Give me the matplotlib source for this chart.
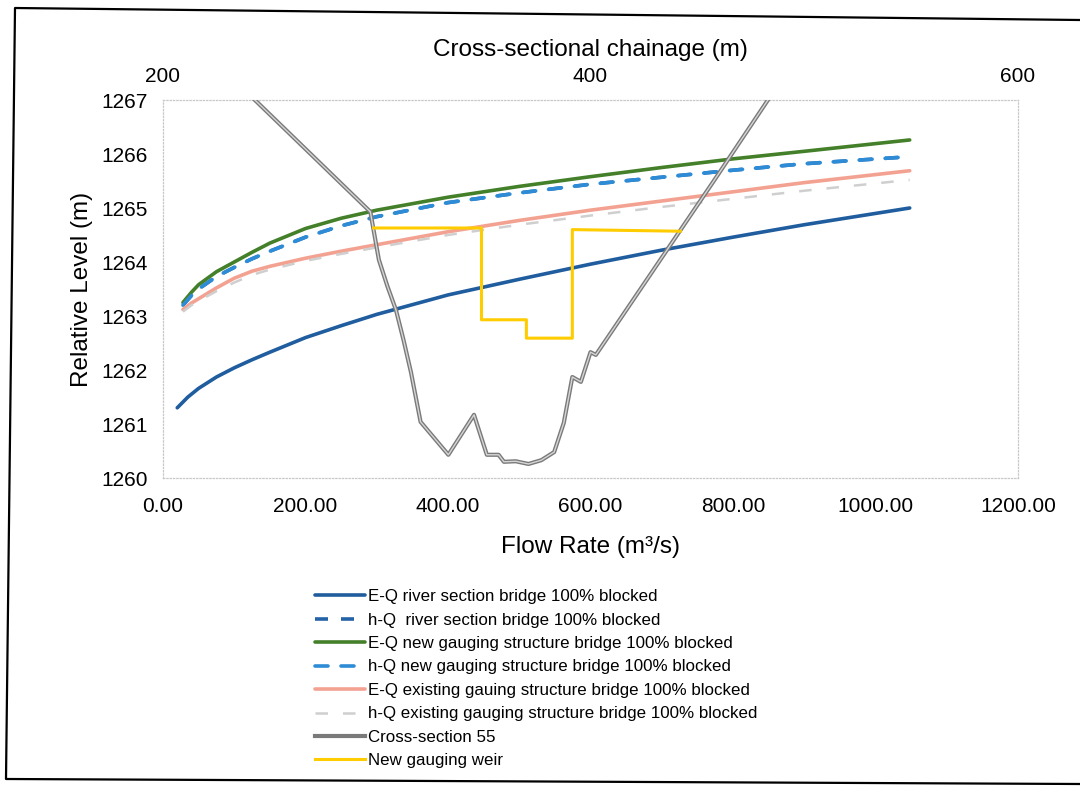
import numpy as np
import matplotlib.pyplot as plt
from matplotlib import font_manager
from matplotlib.lines import Line2D
import matplotlib.patheffects as pe

# ================= data =================
# flow rate (m3/s) -> water level (m)
q_eq_river = [20, 35, 50, 75, 100, 125, 150, 200, 250, 300, 400, 500, 600, 700, 800, 900, 1048]
level_eq_river = [1261.30, 1261.50, 1261.66, 1261.87, 1262.04, 1262.19, 1262.33, 1262.60,
                  1262.82, 1263.03, 1263.39, 1263.68, 1263.96, 1264.22, 1264.46, 1264.69,
                  1265.00]

q_flow = [28, 40, 50, 75, 100, 125, 150, 200, 250, 300, 400, 500, 600, 700, 800, 900, 1048]
level_hq_river = [1263.20, 1263.38, 1263.50, 1263.73, 1263.90, 1264.06, 1264.20, 1264.46,
                  1264.67, 1264.84, 1265.10, 1265.28, 1265.44, 1265.57, 1265.70, 1265.82,
                  1265.95]
level_eq_new = [1263.25, 1263.44, 1263.58, 1263.82, 1264.00, 1264.18, 1264.35, 1264.62,
                1264.81, 1264.96, 1265.20, 1265.40, 1265.58, 1265.75, 1265.91, 1266.05,
                1266.26]
level_hq_new = [1263.20, 1263.38, 1263.50, 1263.73, 1263.90, 1264.06, 1264.20, 1264.46,
                1264.67, 1264.84, 1265.10, 1265.28, 1265.44, 1265.57, 1265.70, 1265.82,
                1265.95]
level_eq_exist = [1263.12, 1263.24, 1263.32, 1263.52, 1263.70, 1263.83, 1263.92, 1264.07,
                  1264.20, 1264.32, 1264.56, 1264.77, 1264.96, 1265.13, 1265.30, 1265.47,
                  1265.69]
level_hq_exist = [1263.08, 1263.20, 1263.28, 1263.46, 1263.62, 1263.76, 1263.86, 1264.02,
                  1264.15, 1264.27, 1264.50, 1264.69, 1264.86, 1265.02, 1265.17, 1265.32,
                  1265.52]

# cross-section 55: chainage (m) -> bed level (m)
xs_chainage = [243, 297, 301, 305, 309, 312.5, 316, 320.5, 333.5, 339.5, 345.5, 351.5, 357,
               359.5, 365, 371, 377, 383, 387.5, 391.5, 395.5, 400, 402.5, 458, 483]
xs_level = [1267.0, 1264.93, 1264.04, 1263.55, 1263.11, 1262.56, 1261.96, 1261.04, 1260.43,
            1260.80, 1261.17, 1260.43, 1260.43, 1260.30, 1260.31, 1260.26, 1260.33, 1260.48,
            1261.02, 1261.87, 1261.78, 1262.33, 1262.28, 1265.52, 1267.0]

# new gauging weir outline
weir_chainage = [298.5, 349, 349, 370, 370, 391.5, 391.5, 442]
weir_level = [1264.63, 1264.63, 1262.93, 1262.93, 1262.59, 1262.59, 1264.60, 1264.57]

labels = ['E-Q river section bridge 100% blocked',
          'h-Q  river section bridge 100% blocked',
          'E-Q new gauging structure bridge 100% blocked',
          'h-Q new gauging structure bridge 100% blocked',
          'E-Q existing gauing structure bridge 100% blocked',
          'h-Q existing gauging structure bridge 100% blocked',
          'Cross-section 55',
          'New gauging weir']

# ================= style =================
plt.rcParams['font.family'] = ['Liberation Sans', 'DejaVu Sans']
installed = {f.name for f in font_manager.fontManager.ttflist}
if 'Liberation Sans Narrow' in installed:
    legend_font = {'family': ['Liberation Sans Narrow', 'DejaVu Sans'], 'size': 14.5}
    leg_spacing, leg_hlen = 0.05, 2.5
else:
    legend_font = {'family': ['Liberation Sans', 'DejaVu Sans'], 'size': 12.2}
    leg_spacing, leg_hlen = 0.5, 2.95

C_EQ_RIVER = '#1F5D9E'
C_HQ_RIVER = '#2563A8'
C_EQ_NEW = '#44802A'
C_HQ_NEW = '#2E8CD6'
C_EQ_EXIST = '#F3A292'
C_HQ_EXIST = '#CFCFCF'
C_XS = '#7A7A7A'
C_WEIR = '#FFCC00'

fig = plt.figure(figsize=(10.8, 7.87), dpi=100)
ax = fig.add_axes([163 / 1080, 1 - 478 / 787, (1018 - 163) / 1080, (478 - 100) / 787])

lw = 2.6
dash = (3.6, 3.6)
h1, = ax.plot(q_eq_river, level_eq_river, color=C_EQ_RIVER, lw=lw, solid_capstyle='round')
h2, = ax.plot(q_flow, level_hq_river, color=C_HQ_RIVER, lw=lw, dashes=dash)
h3, = ax.plot(q_flow, level_eq_new, color=C_EQ_NEW, lw=lw, solid_capstyle='round')
h4, = ax.plot(q_flow, level_hq_new, color=C_HQ_NEW, lw=lw, dashes=dash, dash_capstyle='round')
h5, = ax.plot(q_flow, level_eq_exist, color=C_EQ_EXIST, lw=lw, solid_capstyle='round')
h6, = ax.plot(q_flow, level_hq_exist, color=C_HQ_EXIST, lw=1.8, dashes=(5, 6))

ax.set_xlim(0, 1200)
ax.set_ylim(1260, 1267)
ax.set_xticks(np.arange(0, 1201, 200))
ax.set_xticklabels([f'{v:.2f}' for v in np.arange(0, 1201, 200)])
ax.set_yticks(np.arange(1260, 1268, 1))
ax.tick_params(axis='x', length=0, labelsize=15, pad=14)
ax.tick_params(axis='y', length=0, labelsize=15, pad=11)
ax.set_xlabel('Flow Rate (m³/s)', fontsize=17.5, labelpad=14)
ax.set_ylabel('Relative Level (m)', fontsize=17.5, labelpad=6)
for s in ax.spines.values():
    s.set_color('#C8C8C8')
    s.set_linestyle(':')
    s.set_linewidth(0.9)

# secondary (top) axis: cross-sectional chainage
ax2 = ax.twiny()
h7, = ax2.plot(xs_chainage, xs_level, color='#D6D6D6', lw=1.0,
               path_effects=[pe.Stroke(linewidth=3.0, foreground=C_XS), pe.Normal()])
h8, = ax2.plot(weir_chainage, weir_level, color=C_WEIR, lw=2.2)
ax2.set_xlim(200, 600)
ax2.set_xticks([200, 400, 600])
ax2.tick_params(axis='x', length=0, labelsize=15, pad=10)
ax2.set_xlabel('Cross-sectional chainage (m)', fontsize=17.5, labelpad=8)
for s in ax2.spines.values():
    s.set_visible(False)

leg_handles = [h1, h2, h3, h4, h5, h6,
               Line2D([], [], color=C_XS, lw=3.0), h8]
fig.legend(leg_handles, labels, loc='upper left', bbox_to_anchor=(0.2917, 0.2515),
           frameon=False, prop=legend_font, handlelength=leg_hlen, handletextpad=0.15,
           labelspacing=leg_spacing, borderpad=0, borderaxespad=0)

# scanned page frame
fig.add_artist(Line2D([1.0, 15 / 1080, 6 / 1080, 1.0],
                      [1 - 20 / 787, 1 - 8 / 787, 1 - 779 / 787, 1 - 784 / 787],
                      transform=fig.transFigure, color='black', lw=1.6))

fig.savefig('out.png', dpi=100)
